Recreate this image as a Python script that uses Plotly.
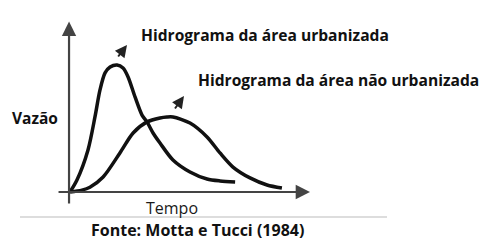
import plotly.graph_objects as go

# Hydrograph of urbanized area (time, discharge) - arbitrary units
t_urb = [0, 0.29, 0.75, 1.04, 1.25, 1.46, 1.67, 1.96, 2.21, 2.42, 2.71, 3.0, 3.21, 3.46, 3.75, 4.29, 5.0, 5.71, 6.25, 6.88]
q_urb = [0, 0.75, 2.63, 4.69, 6.38, 7.44, 7.81, 7.94, 7.75, 7.19, 5.94, 4.81, 4.38, 3.69, 3.06, 2.0, 1.25, 0.81, 0.69, 0.63]

# Hydrograph of non-urbanized area
t_nat = [0, 0.5, 0.83, 1.38, 2.08, 2.63, 3.21, 3.75, 4.04, 4.29, 5.0, 5.71, 6.25, 6.79, 7.5, 8.21, 8.83]
q_nat = [0, 0.12, 0.3, 0.94, 2.44, 3.69, 4.38, 4.63, 4.69, 4.69, 4.31, 3.44, 2.44, 1.56, 0.88, 0.44, 0.25]

label_urb = "Hidrograma da área urbanizada"
label_nat = "Hidrograma da área não urbanizada"
x_label = "Tempo"
y_label = "Vazão"
source = "Fonte: Motta e Tucci (1984)"

W, H = 488, 240
FONT = "Open Sans"

fig = go.Figure()
for t, q in [(t_urb, q_urb), (t_nat, q_nat)]:
    fig.add_trace(go.Scatter(x=t, y=q, mode="lines",
                             line=dict(color="#111111", width=3.5, shape="spline", smoothing=0.8),
                             hoverinfo="skip", showlegend=False))

ann = []
# axes with arrowheads
ann.append(dict(x=10.0, y=0, ax=-0.54, ay=0, xref="x", yref="y", axref="x", ayref="y",
                showarrow=True, arrowhead=2, arrowsize=1.3, arrowwidth=2.2, arrowcolor="#444444", text=""))
ann.append(dict(x=-0.04, y=10.65, ax=-0.04, ay=-0.81, xref="x", yref="y", axref="x", ayref="y",
                showarrow=True, arrowhead=2, arrowsize=1.3, arrowwidth=2.2, arrowcolor="#444444", text=""))
# small pointer arrows
ann.append(dict(x=2.375, y=9.19, ax=1.96, ay=8.375, xref="x", yref="y", axref="x", ayref="y",
                showarrow=True, arrowhead=2, arrowsize=1.2, arrowwidth=2, arrowcolor="#222222", text=""))
ann.append(dict(x=4.75, y=6.0, ax=4.33, ay=5.125, xref="x", yref="y", axref="x", ayref="y",
                showarrow=True, arrowhead=2, arrowsize=1.2, arrowwidth=2, arrowcolor="#222222", text=""))

def txt(s, px, py, size, bold=True, anchor="left", color="#111111"):
    return dict(text=f"<b>{s}</b>" if bold else s, x=px / W, y=1 - py / H, xref="paper", yref="paper",
                xanchor=anchor, yanchor="middle", showarrow=False,
                font=dict(family=FONT, size=size, color=color))

ann.append(txt(label_urb, 139, 35, 15.6))
ann.append(txt(label_nat, 196, 80, 15.6))
ann.append(txt(y_label, 10, 118, 15.5))
ann.append(txt(x_label, 172, 208, 16, bold=False, anchor="center", color="#1a1a1a"))
ann.append(txt(source, 197, 230, 16, anchor="center"))

fig.update_layout(
    width=W, height=H, margin=dict(l=0, r=0, t=0, b=0),
    paper_bgcolor="white", plot_bgcolor="white",
    xaxis=dict(range=[-70 / 24, (W - 70) / 24], visible=False, fixedrange=True),
    yaxis=dict(range=[-3, 12], visible=False, fixedrange=True),
    annotations=ann,
    shapes=[dict(type="line", xref="paper", yref="paper", x0=20 / W, x1=387 / W,
                 y0=1 - 217 / H, y1=1 - 217 / H, line=dict(color="#bbbbbb", width=1))],
)

fig.write_html("out.html")
